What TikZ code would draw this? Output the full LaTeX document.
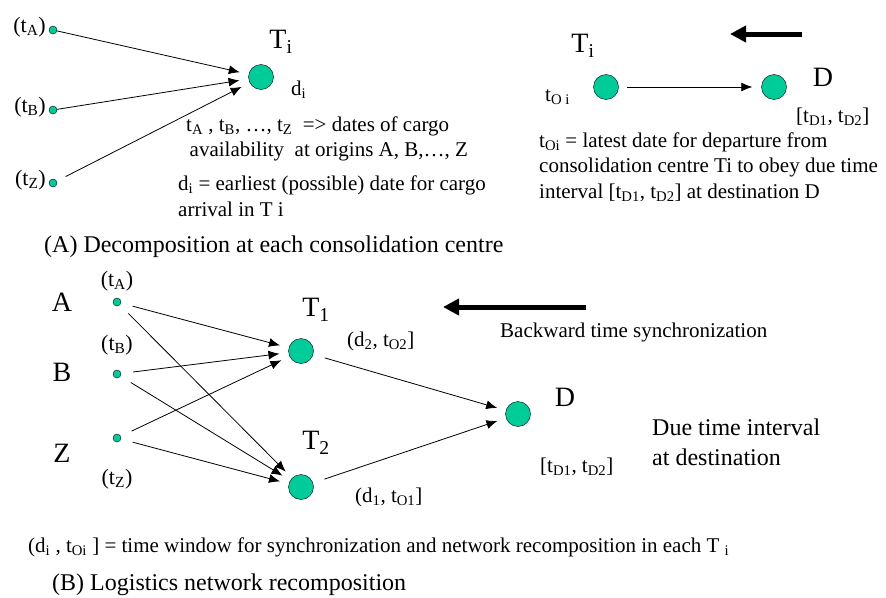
\documentclass[tikz,border=0pt]{standalone}
\usepackage{fontspec}
\setmainfont{Liberation Serif}
\usepackage{tikz}
\usepackage{xcolor}
\usetikzlibrary{positioning,arrows.meta}
\definecolor{nodegreen}{HTML}{00CC99}
\newcommand{\lo}[1]{\textsubscript{#1}}
\tikzset{
    small-dot/.style = {draw=black, fill=nodegreen, circle, inner sep=0pt, minimum size=8pt, thin},
    big-dot/.style = {draw=black, fill=nodegreen, circle, inner sep=0pt, minimum size=25pt, thin},
    flow-arrow/.style = {-{Latex[length=11pt,width=9pt]}, line width=0.8pt, shorten >=9pt},
    back-arrow/.style = {-{Triangle[length=16pt,width=16pt]}, line width=5pt},
    plain-text/.style = {inner sep=0pt, anchor=west, align=left, font=\fontsize{21}{25.5}\selectfont},
    caption-text/.style = {inner sep=0pt, anchor=west, align=left, font=\fontsize{24}{30}\selectfont},
    time-label/.style = {inner sep=0pt, font=\fontsize{22}{24}\selectfont},
    big-label/.style = {inner sep=0pt, font=\fontsize{28}{30}\selectfont},
}

\begin{document}
\begin{tikzpicture}[x=1pt,y=-1pt]
\useasboundingbox (0,0) rectangle (886,597);

% (A) one consolidation centre
\node[small-dot] (oA) at (53,30) {};
\node[small-dot] (oB) at (53,110) {};
\node[small-dot] (oZ) at (53,183) {};
\node[time-label, anchor=east] (oAlab) at (46,27) {(t\lo{A})};
\node[time-label, anchor=east] (oBlab) at (46,107) {(t\lo{B})};
\node[time-label, anchor=east] (oZlab) at (46,180) {(t\lo{Z})};
\node[big-dot] (ti) at (261,77) {};
\node[big-label] (tilab) at (281,42) {T\lo{i}};
\node[plain-text] (dilab) at (291,90) {d\lo{i}};
\draw[flow-arrow] (oA) -- (ti);
\draw[flow-arrow] (oB) -- (ti);
\draw[flow-arrow, shorten <=10pt] (oZ) -- (ti);
\node[plain-text] (datesA) at (186,139) {t\lo{A} , t\lo{B}, \dots, t\lo{Z}\ \ => dates of cargo\\ \,availability\ \ at origins A, B,\dots, Z};
\node[plain-text] (earliest) at (178,196) {d\lo{i} = earliest (possible) date for cargo\\arrival in T i};

\node[big-dot] (ti2) at (606,87) {};
\node[big-dot] (dd) at (774,87) {};
\node[big-label] (ti2lab) at (583,46) {T\lo{i}};
\node[big-label] (ddlab) at (823,77) {D};
\node[plain-text] (toilab) at (545,97) {t\lo{O i}};
\node[plain-text] (ddwin) at (796,117) {[t\lo{D1}, t\lo{D2}]};
\draw[flow-arrow, shorten <=8pt] (ti2) -- (dd);
\coordinate (bkA1) at (802,34);
\coordinate (bkA2) at (730,34);
\draw[back-arrow] (bkA1) -- (bkA2);
\node[plain-text] (latest) at (539,167) {t\lo{Oi} = latest date for departure from\\consolidation centre Ti to obey due time\\interval [t\lo{D1}, t\lo{D2}] at destination D};

\node[caption-text] (capA) at (44,247) {(A) Decomposition at each consolidation centre};

% (B) whole network
\node[big-label] (Alab) at (62,302) {A};
\node[big-label] (Blab) at (62,372) {B};
\node[big-label] (Zlab) at (62,453) {Z};
\node[small-dot] (nA) at (117,302) {};
\node[small-dot] (nB) at (117,374) {};
\node[small-dot] (nZ) at (117,438) {};
\node[time-label] (nAlab) at (117,281) {(t\lo{A})};
\node[time-label] (nBlab) at (117,345) {(t\lo{B})};
\node[time-label] (nZlab) at (117,479) {(t\lo{Z})};
\node[big-dot] (t1) at (301,351) {};
\node[big-dot] (t2) at (301,487) {};
\node[big-dot] (dn) at (518,414) {};
\node[big-label] (t1lab) at (316,310) {T\lo{1}};
\node[big-label] (t2lab) at (316,443) {T\lo{2}};
\node[big-label] (dnlab) at (565,397) {D};
\node[plain-text] (t1win) at (347,341) {(d\lo{2}, t\lo{O2}]};
\node[plain-text] (t2win) at (355,497) {(d\lo{1}, t\lo{O1}]};
\node[plain-text] (dnwin) at (540,467) {[t\lo{D1}, t\lo{D2}]};
\node[caption-text] (duetext) at (652,442) {Due time interval\\at destination};
\foreach \src in {nA,nB,nZ} {
  \draw[flow-arrow, shorten <=12pt] (\src) -- (t1);
  \draw[flow-arrow, shorten <=12pt] (\src) -- (t2);
}
\draw[flow-arrow, shorten <=12pt] (t1) -- (dn);
\draw[flow-arrow, shorten <=12pt] (t2) -- (dn);
\coordinate (bkB1) at (586,307);
\coordinate (bkB2) at (443,307);
\draw[back-arrow] (bkB1) -- (bkB2);
\node[plain-text] (backtext) at (500,332) {Backward time synchronization};

\node[plain-text] (window) at (28,547) {(d\lo{i} , t\lo{Oi} ] = time window for synchronization and network recomposition in each T \lo{i}};
\node[caption-text] (capB) at (52,585) {(B) Logistics network recomposition};
\end{tikzpicture}
\end{document}
